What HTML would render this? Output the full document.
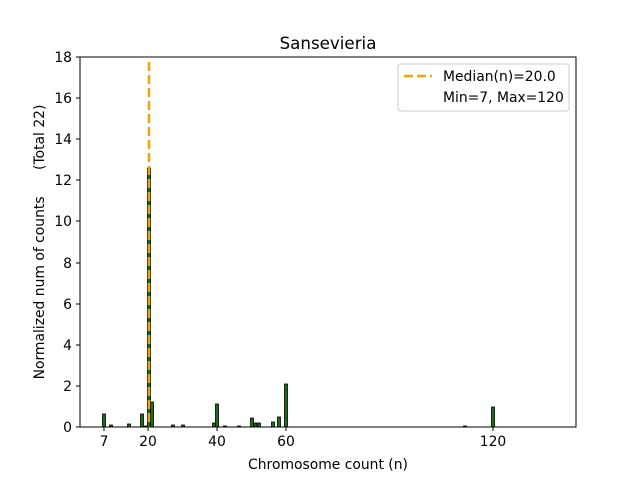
<!DOCTYPE html>
<html><head><style>body{margin:0;background:#fff}svg{display:block;font-family:"DejaVu Sans","Liberation Sans",sans-serif}</style></head><body>
<svg width="640" height="480" viewBox="0 0 640 480">
<rect width="640" height="480" fill="#fff"/>
<g fill="#1a6b1a" stroke="#000" stroke-width="0.8">
<rect x="102.5" y="414" width="3" height="13"/>
<rect x="109.5" y="425" width="3" height="2"/>
<rect x="127.5" y="424" width="3" height="3"/>
<rect x="140.5" y="414" width="3" height="13"/>
<rect x="144.5" y="426" width="3" height="1"/>
<rect x="147.5" y="168" width="3" height="259"/>
<rect x="150.5" y="402" width="3" height="25"/>
<rect x="171.5" y="425" width="3" height="2"/>
<rect x="181.5" y="425" width="3" height="2"/>
<rect x="212.5" y="423" width="3" height="4"/>
<rect x="215.5" y="404" width="3" height="23"/>
<rect x="223.5" y="426" width="3" height="1"/>
<rect x="237.5" y="426" width="3" height="1"/>
<rect x="250.5" y="418" width="3" height="9"/>
<rect x="254" y="423" width="3" height="4"/>
<rect x="257.5" y="423" width="3" height="4"/>
<rect x="271.5" y="422" width="3" height="5"/>
<rect x="277.5" y="417" width="3" height="10"/>
<rect x="284.5" y="384" width="3" height="43"/>
<rect x="463.5" y="426" width="3" height="1"/>
<rect x="491.5" y="407" width="3" height="20"/>
</g>
<line x1="149" y1="62" x2="149" y2="427" stroke="#f0a30a" stroke-width="2.5" stroke-dasharray="9,4"/>
<rect x="80" y="57" width="496" height="370" fill="none" stroke="#000" stroke-width="1"/>
<g stroke="#000" stroke-width="1">
<line x1="104" y1="427" x2="104" y2="431"/><line x1="148" y1="427" x2="148" y2="431"/><line x1="217" y1="427" x2="217" y2="431"/><line x1="286" y1="427" x2="286" y2="431"/><line x1="493" y1="427" x2="493" y2="431"/>
<line x1="76" y1="427" x2="80" y2="427"/><line x1="76" y1="386" x2="80" y2="386"/><line x1="76" y1="345" x2="80" y2="345"/><line x1="76" y1="304" x2="80" y2="304"/><line x1="76" y1="263" x2="80" y2="263"/><line x1="76" y1="221" x2="80" y2="221"/><line x1="76" y1="180" x2="80" y2="180"/><line x1="76" y1="139" x2="80" y2="139"/><line x1="76" y1="98" x2="80" y2="98"/><line x1="76" y1="57" x2="80" y2="57"/>
</g>
<g font-size="13.9" fill="#000" text-anchor="middle">
<text x="104" y="446">7</text><text x="148" y="446">20</text><text x="217" y="446">40</text><text x="286" y="446">60</text><text x="493" y="446">120</text>
</g>
<g font-size="13.9" fill="#000" text-anchor="end">
<text x="72" y="432">0</text><text x="72" y="391">2</text><text x="72" y="350">4</text><text x="72" y="309">6</text><text x="72" y="268">8</text><text x="72" y="226">10</text><text x="72" y="185">12</text><text x="72" y="144">14</text><text x="72" y="103">16</text><text x="72" y="62">18</text>
</g>
<text x="328" y="469" font-size="13.9" text-anchor="middle">Chromosome count (n)</text>
<text transform="translate(44,242) rotate(-90)" font-size="13.9" text-anchor="middle" xml:space="preserve">Normalized num of counts      (Total 22)</text>
<text x="328" y="49" font-size="16.7" text-anchor="middle">Sansevieria</text>
<rect x="398" y="64" width="171" height="47" rx="3" fill="#fff" stroke="#ccc"/>
<line x1="404" y1="76" x2="432" y2="76" stroke="#f0a30a" stroke-width="2.5" stroke-dasharray="9,4"/>
<text x="443" y="81" font-size="13.9">Median(n)=20.0</text>
<text x="443" y="102" font-size="13.9">Min=7, Max=120</text>
</svg>
</body></html>
